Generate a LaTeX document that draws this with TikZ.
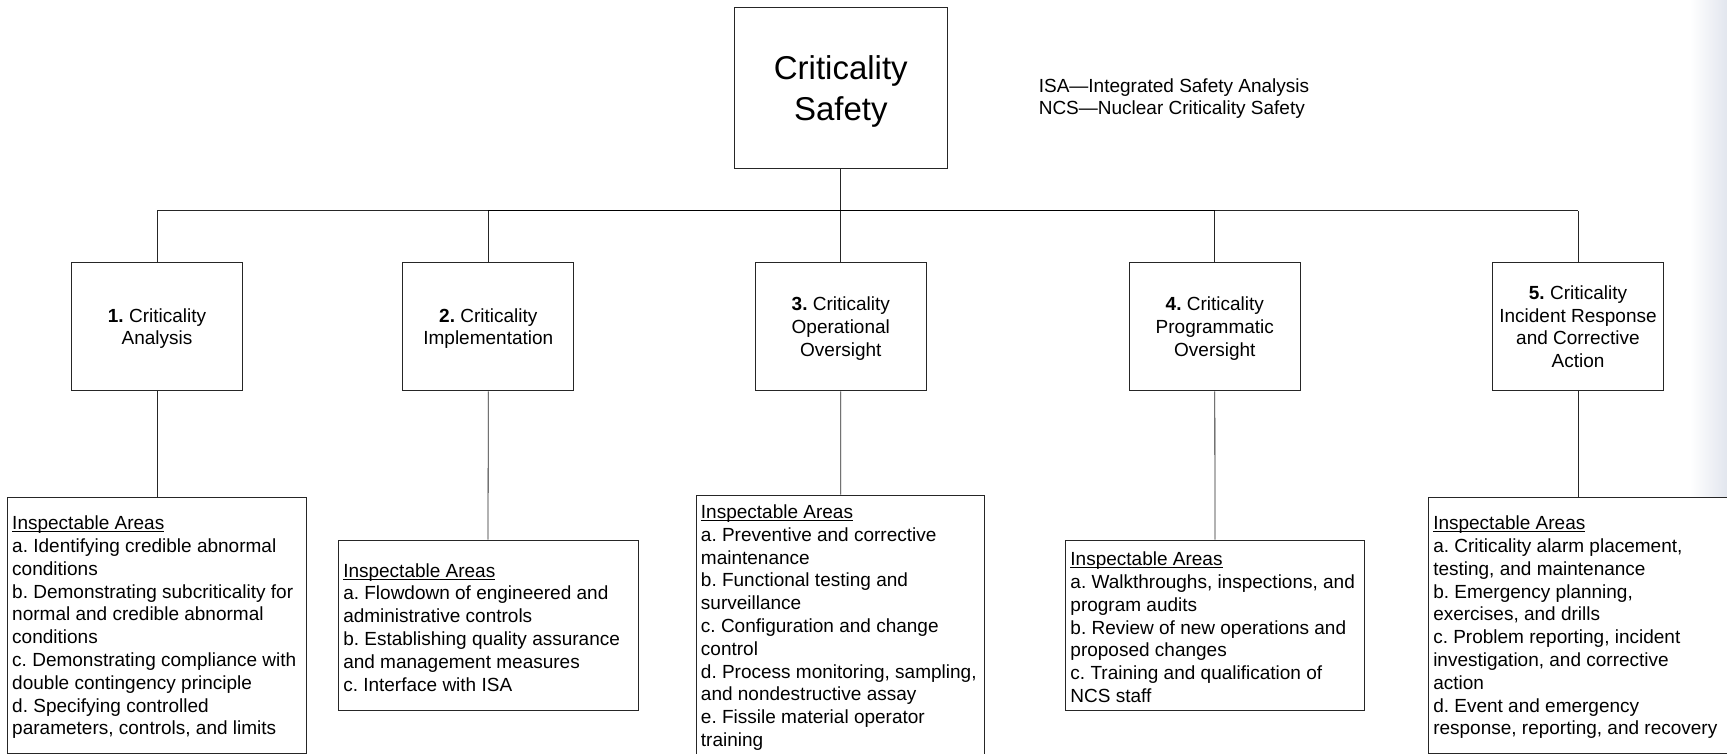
\documentclass[tikz,border=0pt]{standalone}
\usepackage{fontspec}
\setmainfont{Liberation Sans}
\newcommand\myul[1]{\setbox0\hbox{#1}\rlap{\rule[-2.4pt]{\wd0}{0.9pt}}\box0}
\begin{document}
\frenchspacing
\begin{tikzpicture}[x=1pt,y=-1pt,
  box/.style={draw=black!85, line width=0.9pt, fill=white, inner sep=0pt},
  small/.style={font=\fontsize{19}{22.8}\selectfont\frenchspacing},
  midbox/.style={box, small, align=center, minimum width=171pt, minimum height=128.4pt, text depth=0pt},
  areabox/.style={small, align=left, inner sep=0pt, anchor=west},
  conn/.style={draw=black!85, line width=0.8pt}]
\useasboundingbox (0,0) rectangle (1727,754);
\shade[left color=white,right color={rgb,255:red,226;green,230;blue,238}] (1690,0) rectangle (1727,754);

\node[box, minimum width=212.4pt, minimum height=160.7pt] (top) at (840.8,87.7) {};
\node[align=center, inner sep=0pt, font=\fontsize{33}{40.8}\selectfont] (toptext) at ([yshift=-3.5pt]top.center) {Criticality\\Safety};
\node[small, align=left, anchor=west, inner sep=0pt] (legend) at (1038.6,98.5)
  {ISA—Integrated Safety Analysis\\NCS—Nuclear Criticality Safety};

\node[midbox] (n1) at (157,326.6) {\textbf{1.} Criticality\\Analysis};
\node[midbox] (n2) at (488.3,326.6) {\textbf{2.} Criticality\\Implementation};
\node[midbox] (n3) at (840.8,326.6) {\textbf{3.} Criticality\\Operational\\Oversight};
\node[midbox] (n4) at (1214.8,326.6) {\textbf{4.} Criticality\\Programmatic\\Oversight};
\node[midbox] (n5) at (1578,326.6) {\textbf{5.} Criticality\\Incident Response\\and Corrective\\Action};

\node[box, minimum width=299.4pt, minimum height=256pt] (lA) at (157,625.3) {};
\node[box, minimum width=300pt, minimum height=170.7pt] (lB) at (488,625.4) {};
\node[box, minimum width=288pt, minimum height=261pt] (lC) at (840.7,625.5) {};
\node[box, minimum width=298.6pt, minimum height=170.7pt] (lD) at (1215,625.4) {};
\node[box, minimum width=299.4pt, minimum height=256pt] (lE) at (1578,625.3) {};

\node[areabox] (tA) at ([xshift=5.2pt,yshift=-2pt]lA.west) {\myul{Inspectable Areas}\\
a. Identifying credible abnormal\\
conditions\\
b. Demonstrating subcriticality for\\
normal and credible abnormal\\
conditions\\
c. Demonstrating compliance with\\
double contingency principle\\
d. Specifying controlled\\
parameters, controls, and limits};
\node[areabox] (tB) at ([xshift=5.5pt,yshift=-2pt]lB.west) {\myul{Inspectable Areas}\\
a. Flowdown of engineered and\\
administrative controls\\
b. Establishing quality assurance\\
and management measures\\
c. Interface with ISA};
\node[areabox] (tC) at ([xshift=4.5pt,yshift=-2pt]lC.west) {\myul{Inspectable Areas}\\
a. Preventive and corrective\\
maintenance\\
b. Functional testing and\\
surveillance\\
c. Configuration and change\\
control\\
d. Process monitoring, sampling,\\
and nondestructive assay\\
e. Fissile material operator\\
training};
\node[areabox] (tD) at ([xshift=5pt,yshift=-2pt]lD.west) {\myul{Inspectable Areas}\\
a. Walkthroughs, inspections, and\\
program audits\\
b. Review of new operations and\\
proposed changes\\
c. Training and qualification of\\
NCS staff};
\node[areabox] (tE) at ([xshift=5.2pt,yshift=-2pt]lE.west) {\myul{Inspectable Areas}\\
a. Criticality alarm placement,\\
testing, and maintenance\\
b. Emergency planning,\\
exercises, and drills\\
c. Problem reporting, incident\\
investigation, and corrective\\
action\\
d. Event and emergency\\
response, reporting, and recovery};

\coordinate (bus) at (840.8,210.7);
\draw[conn] (top.south) -- (bus);
\draw[conn] (n1.north |- bus) -- (n5.north |- bus);
\draw[conn, line width=1.3pt, draw=black] (n2.north |- bus) -- (n4.north |- bus);
\foreach \i in {1,...,5} {\draw[conn] (n\i.north) -- (n\i.north |- bus);}
\draw[conn] (n1.south) -- (lA.north);
\draw[conn] (n2.south) -- (lB.north);
\draw[conn] (n3.south) -- (lC.north);
\draw[conn] (n4.south) -- (lD.north);
\draw[conn] (n5.south) -- (lE.north);
\end{tikzpicture}
\end{document}
